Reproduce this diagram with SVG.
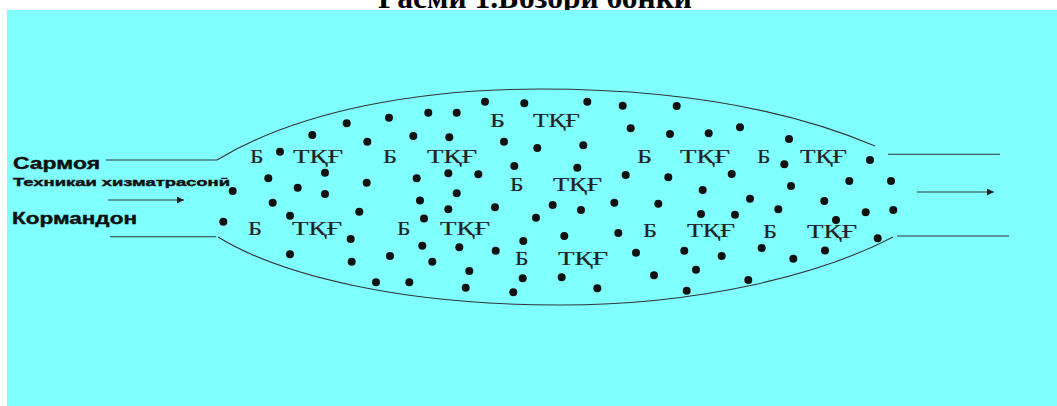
<svg xmlns="http://www.w3.org/2000/svg" width="1057" height="406" viewBox="0 0 1057 406">
<defs>
<style>
.title{font-family:"Liberation Serif","Times New Roman",serif;font-weight:bold;font-size:32px;fill:#000}
.side{font-family:"Liberation Sans",Arial,sans-serif;font-weight:bold;fill:#111;stroke:#111;stroke-width:0.4}
.lb{font-family:"Liberation Serif","Times New Roman",serif;font-size:18px;fill:#222;stroke:#222;stroke-width:0.2}
.ln{stroke:#333;stroke-width:1.1;fill:none}
.d{fill:#111}
</style>
<marker id="ah" viewBox="0 0 10 10" refX="10" refY="5" markerWidth="10" markerHeight="7" markerUnits="userSpaceOnUse" orient="auto">
<path d="M0,0 L10,5 L0,10 z" fill="#222"/>
</marker>
</defs>
<rect x="0" y="0" width="1057" height="406" fill="#fff"/>
<text class="title" x="378" y="8" textLength="314" lengthAdjust="spacingAndGlyphs">Расми 1.Бозори бонки</text>
<rect x="7" y="10" width="1050" height="396" fill="#80ffff"/>

<g id="inputs">
<text class="side" x="13" y="169" font-size="16" textLength="87" lengthAdjust="spacingAndGlyphs">Сармоя</text>
<text class="side" x="13" y="186" font-size="11" textLength="217" lengthAdjust="spacingAndGlyphs">Техникаи хизматрасонӣ</text>
<text class="side" x="12" y="223.5" font-size="16" textLength="125" lengthAdjust="spacingAndGlyphs">Кормандон</text>
</g>

<g id="connectors">
<line class="ln" x1="106" y1="160" x2="217" y2="160"/>
<line class="ln" x1="110" y1="236.7" x2="216" y2="236.7"/>
<line class="ln" x1="108" y1="200" x2="184" y2="200" marker-end="url(#ah)"/>
<line class="ln" x1="888" y1="154.3" x2="1000" y2="154.3"/>
<line class="ln" x1="897" y1="236" x2="1009" y2="236"/>
<line class="ln" x1="917" y1="192" x2="994" y2="192" marker-end="url(#ah)"/>
</g>

<g id="market">
<path class="ln" d="M217,160 C300,110 420,89 540,89 C680,89 790,110 875,146"/>
<path class="ln" d="M218,237 C280,275 400,305 560,305 C700,305 820,275 893,237"/>
</g>

<g id="labels">
<text class="lb" x="490" y="126.5" textLength="15" lengthAdjust="spacingAndGlyphs">Б</text>
<text class="lb" x="533" y="126.5" textLength="47" lengthAdjust="spacingAndGlyphs">ТҚҒ</text>
<text class="lb" x="250" y="163" textLength="13.5" lengthAdjust="spacingAndGlyphs">Б</text>
<text class="lb" x="293" y="163" textLength="50" lengthAdjust="spacingAndGlyphs">ТҚҒ</text>
<text class="lb" x="383" y="163" textLength="14" lengthAdjust="spacingAndGlyphs">Б</text>
<text class="lb" x="427" y="163" textLength="50" lengthAdjust="spacingAndGlyphs">ТҚҒ</text>
<text class="lb" x="637" y="162.5" textLength="15" lengthAdjust="spacingAndGlyphs">Б</text>
<text class="lb" x="680" y="162.5" textLength="50" lengthAdjust="spacingAndGlyphs">ТҚҒ</text>
<text class="lb" x="757" y="163" textLength="13.5" lengthAdjust="spacingAndGlyphs">Б</text>
<text class="lb" x="800" y="163" textLength="47" lengthAdjust="spacingAndGlyphs">ТҚҒ</text>
<text class="lb" x="510" y="191" textLength="13.5" lengthAdjust="spacingAndGlyphs">Б</text>
<text class="lb" x="553" y="191" textLength="49" lengthAdjust="spacingAndGlyphs">ТҚҒ</text>
<text class="lb" x="248" y="235" textLength="14" lengthAdjust="spacingAndGlyphs">Б</text>
<text class="lb" x="292" y="235" textLength="50" lengthAdjust="spacingAndGlyphs">ТҚҒ</text>
<text class="lb" x="397" y="235" textLength="13.5" lengthAdjust="spacingAndGlyphs">Б</text>
<text class="lb" x="440" y="235" textLength="50" lengthAdjust="spacingAndGlyphs">ТҚҒ</text>
<text class="lb" x="643" y="237" textLength="14" lengthAdjust="spacingAndGlyphs">Б</text>
<text class="lb" x="687" y="237" textLength="48" lengthAdjust="spacingAndGlyphs">ТҚҒ</text>
<text class="lb" x="763" y="237.5" textLength="14" lengthAdjust="spacingAndGlyphs">Б</text>
<text class="lb" x="807" y="237.5" textLength="50" lengthAdjust="spacingAndGlyphs">ТҚҒ</text>
<text class="lb" x="515" y="265" textLength="13.5" lengthAdjust="spacingAndGlyphs">Б</text>
<text class="lb" x="558" y="265" textLength="50" lengthAdjust="spacingAndGlyphs">ТҚҒ</text>
</g>

<g id="dots">
<circle class="d" cx="485" cy="101.7" r="4"/>
<circle class="d" cx="428.3" cy="112.7" r="4"/>
<circle class="d" cx="456.7" cy="112.7" r="4"/>
<circle class="d" cx="389" cy="117.7" r="4"/>
<circle class="d" cx="346.7" cy="123.3" r="4"/>
<circle class="d" cx="312.3" cy="135" r="4"/>
<circle class="d" cx="413.3" cy="136" r="4"/>
<circle class="d" cx="449.3" cy="137.3" r="4"/>
<circle class="d" cx="367.3" cy="141.7" r="4"/>
<circle class="d" cx="280" cy="151.7" r="4"/>
<circle class="d" cx="325" cy="172.7" r="4"/>
<circle class="d" cx="268.3" cy="178.3" r="4"/>
<circle class="d" cx="366.7" cy="182.7" r="4"/>
<circle class="d" cx="416.7" cy="178.3" r="4"/>
<circle class="d" cx="448.3" cy="173.3" r="4"/>
<circle class="d" cx="478.3" cy="174.3" r="4"/>
<circle class="d" cx="232.7" cy="191" r="4"/>
<circle class="d" cx="297.7" cy="187.7" r="4"/>
<circle class="d" cx="325" cy="194" r="4"/>
<circle class="d" cx="456.7" cy="193.3" r="4"/>
<circle class="d" cx="272.7" cy="202.7" r="4"/>
<circle class="d" cx="420" cy="200.5" r="4"/>
<circle class="d" cx="495" cy="207.3" r="4"/>
<circle class="d" cx="359.3" cy="211.7" r="4"/>
<circle class="d" cx="448.3" cy="209.3" r="4"/>
<circle class="d" cx="290" cy="215.7" r="4"/>
<circle class="d" cx="424" cy="218.5" r="4"/>
<circle class="d" cx="223.3" cy="221.7" r="4"/>
<circle class="d" cx="524.3" cy="103.3" r="4"/>
<circle class="d" cx="587.3" cy="101.7" r="4"/>
<circle class="d" cx="622.7" cy="105.7" r="4"/>
<circle class="d" cx="676.7" cy="106" r="4"/>
<circle class="d" cx="630.7" cy="128.3" r="4"/>
<circle class="d" cx="670" cy="134" r="4"/>
<circle class="d" cx="708.7" cy="133.3" r="4"/>
<circle class="d" cx="740" cy="127.3" r="4"/>
<circle class="d" cx="504" cy="141.7" r="4"/>
<circle class="d" cx="537.3" cy="148" r="4"/>
<circle class="d" cx="583.3" cy="145.3" r="4"/>
<circle class="d" cx="514.3" cy="166" r="4"/>
<circle class="d" cx="577.3" cy="167.7" r="4"/>
<circle class="d" cx="625.7" cy="175" r="4"/>
<circle class="d" cx="668.3" cy="177.3" r="4"/>
<circle class="d" cx="731.7" cy="174" r="4"/>
<circle class="d" cx="702.7" cy="190" r="4"/>
<circle class="d" cx="750" cy="198.7" r="4"/>
<circle class="d" cx="552.7" cy="205" r="4"/>
<circle class="d" cx="581" cy="210" r="4"/>
<circle class="d" cx="614.3" cy="202.7" r="4"/>
<circle class="d" cx="658.3" cy="203.7" r="4"/>
<circle class="d" cx="778.3" cy="209.3" r="4"/>
<circle class="d" cx="536" cy="217.7" r="4"/>
<circle class="d" cx="701" cy="214" r="4"/>
<circle class="d" cx="735" cy="214.7" r="4"/>
<circle class="d" cx="789" cy="139" r="4"/>
<circle class="d" cx="784.3" cy="164.3" r="4"/>
<circle class="d" cx="870" cy="160" r="4"/>
<circle class="d" cx="791" cy="186" r="4"/>
<circle class="d" cx="849.3" cy="181" r="4"/>
<circle class="d" cx="891" cy="181" r="4"/>
<circle class="d" cx="824.3" cy="201" r="4"/>
<circle class="d" cx="865.7" cy="212.3" r="4"/>
<circle class="d" cx="893.3" cy="210" r="4"/>
<circle class="d" cx="836" cy="220" r="4"/>
<circle class="d" cx="877.7" cy="238.3" r="4"/>
<circle class="d" cx="761.7" cy="248" r="4"/>
<circle class="d" cx="825" cy="250.5" r="4"/>
<circle class="d" cx="793.3" cy="258.7" r="4"/>
<circle class="d" cx="748.3" cy="280" r="4"/>
<circle class="d" cx="350.7" cy="239" r="4"/>
<circle class="d" cx="422.3" cy="245.7" r="4"/>
<circle class="d" cx="459.3" cy="247.3" r="4"/>
<circle class="d" cx="495.7" cy="250.7" r="4"/>
<circle class="d" cx="290" cy="254.3" r="4"/>
<circle class="d" cx="390" cy="256" r="4"/>
<circle class="d" cx="351.7" cy="261.7" r="4"/>
<circle class="d" cx="432.3" cy="261.7" r="4"/>
<circle class="d" cx="469.3" cy="271" r="4"/>
<circle class="d" cx="376" cy="282.3" r="4"/>
<circle class="d" cx="409.3" cy="282.3" r="4"/>
<circle class="d" cx="465.7" cy="287.7" r="4"/>
<circle class="d" cx="564.3" cy="236" r="4"/>
<circle class="d" cx="618.3" cy="233" r="4"/>
<circle class="d" cx="523.3" cy="241" r="4"/>
<circle class="d" cx="636" cy="252.7" r="4"/>
<circle class="d" cx="684.3" cy="250.7" r="4"/>
<circle class="d" cx="721.7" cy="256" r="4"/>
<circle class="d" cx="522.7" cy="278.3" r="4"/>
<circle class="d" cx="561.7" cy="277.3" r="4"/>
<circle class="d" cx="654" cy="275.3" r="4"/>
<circle class="d" cx="696" cy="269.7" r="4"/>
<circle class="d" cx="513.3" cy="292.3" r="4"/>
<circle class="d" cx="597.3" cy="288.3" r="4"/>
<circle class="d" cx="686.7" cy="290.7" r="4"/>
</g>
</svg>
